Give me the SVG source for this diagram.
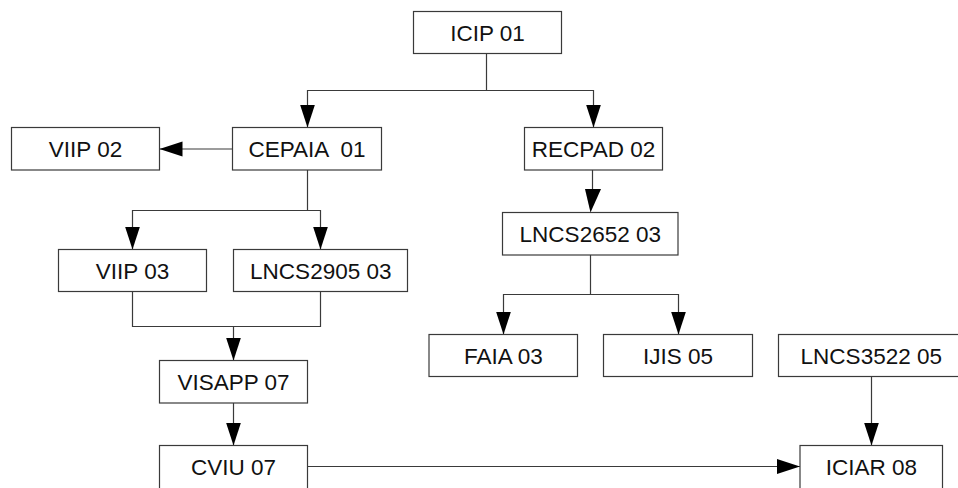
<svg xmlns="http://www.w3.org/2000/svg" width="958" height="488" viewBox="0 0 958 488">
  <style>
    .box rect { fill: #ffffff; stroke: #3a3a3a; stroke-width: 1.2; }
    .box text { font-family: "Liberation Sans", Arial, sans-serif; font-size: 22.5px; fill: #111111; text-anchor: middle; white-space: pre; }
    .edges path { fill: none; stroke: #3a3a3a; stroke-width: 1.2; }
    .head { fill: #000000; }
  </style>
  <defs>
    <marker id="arrow" markerUnits="userSpaceOnUse" markerWidth="24" markerHeight="16" refX="23" refY="7.5" orient="auto">
      <path class="head" d="M0,0 L23,7.5 L0,15 Z"/>
    </marker>
  </defs>

  <rect width="958" height="488" fill="#ffffff"/>

  <!-- connectors -->
  <g id="edges" class="edges">
    <path d="M486.5,53.5 V90.5 H307.5 V127.5" marker-end="url(#arrow)"/>
    <path d="M486.5,90.5 H593.5 V127.5" marker-end="url(#arrow)"/>
    <path d="M232.5,149 H159.5" marker-end="url(#arrow)"/>
    <path d="M307.5,170 V210.5 H132.5 V249.5" marker-end="url(#arrow)"/>
    <path d="M307.5,210.5 H320.5 V249.5" marker-end="url(#arrow)"/>
    <path d="M592.5,170 V189.5"/>
    <polygon class="head" points="585,189 601,189 590.5,212.5"/>
    <path d="M590.5,255 V294.5 H503.5 V334.5" marker-end="url(#arrow)"/>
    <path d="M590.5,294.5 H678.5 V334.5" marker-end="url(#arrow)"/>
    <path d="M132.5,291.5 V326.5 H320.5 V291.5"/>
    <path d="M233.5,326.5 V360.5" marker-end="url(#arrow)"/>
    <path d="M233.5,403 V445.5" marker-end="url(#arrow)"/>
    <path d="M307.5,466.5 H800" marker-end="url(#arrow)"/>
    <path d="M871.5,376.5 V445.5" marker-end="url(#arrow)"/>
  </g>

  <!-- nodes -->
  <g id="icip01" class="box">
    <rect x="413.5" y="11.5" width="148" height="42"/>
    <text x="487.5" y="41">ICIP 01</text>
  </g>
  <g id="viip02" class="box">
    <rect x="11.5" y="127.5" width="148" height="42.5"/>
    <text x="85.5" y="157">VIIP 02</text>
  </g>
  <g id="cepaia01" class="box">
    <rect x="232.5" y="127.5" width="149" height="42.5"/>
    <text x="307" y="157">CEPAIA  01</text>
  </g>
  <g id="recpad02" class="box">
    <rect x="524.5" y="127.5" width="138" height="42.5"/>
    <text x="593.5" y="157">RECPAD 02</text>
  </g>
  <g id="lncs2652" class="box">
    <rect x="502.5" y="212.5" width="175.5" height="42.5"/>
    <text x="590.3" y="242">LNCS2652 03</text>
  </g>
  <g id="viip03" class="box">
    <rect x="58.5" y="249.5" width="148" height="42"/>
    <text x="132.5" y="279.3">VIIP 03</text>
  </g>
  <g id="lncs2905" class="box">
    <rect x="233.5" y="249.5" width="174" height="42"/>
    <text x="320.8" y="279.3">LNCS2905 03</text>
  </g>
  <g id="faia03" class="box">
    <rect x="429" y="334.5" width="148.5" height="42"/>
    <text x="503.3" y="364">FAIA 03</text>
  </g>
  <g id="ijis05" class="box">
    <rect x="603.5" y="334.5" width="149" height="42"/>
    <text x="678" y="364">IJIS 05</text>
  </g>
  <g id="lncs3522" class="box">
    <rect x="778.5" y="334.5" width="186" height="42"/>
    <text x="871.3" y="364">LNCS3522 05</text>
  </g>
  <g id="visapp07" class="box">
    <rect x="159.5" y="360.5" width="148" height="42.5"/>
    <text x="233.5" y="390">VISAPP 07</text>
  </g>
  <g id="cviu07" class="box">
    <rect x="159.5" y="445.5" width="148" height="46"/>
    <text x="233.5" y="475">CVIU 07</text>
  </g>
  <g id="iciar08" class="box">
    <rect x="800" y="445.5" width="142.5" height="46"/>
    <text x="871.3" y="475">ICIAR 08</text>
  </g>
</svg>
